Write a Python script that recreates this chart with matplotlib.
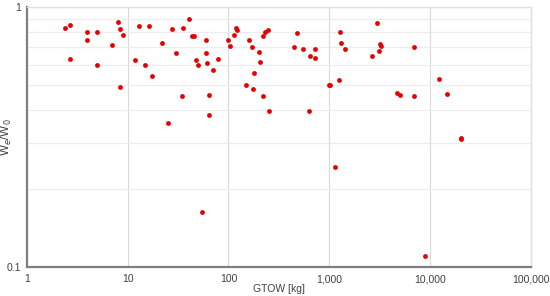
import matplotlib.pyplot as plt
from matplotlib.ticker import FixedLocator, FuncFormatter, NullFormatter

plt.rcParams['font.family'] = ['Liberation Sans', 'DejaVu Sans']

# GTOW [kg] and empty weight fraction We/W0
gtow = [2.40, 2.69, 2.69, 3.99, 3.99, 4.97, 4.97, 7.00, 7.98, 8.35,
        9.00, 8.47, 12.97, 11.9, 16.4, 15.0, 17.5, 21.9, 27.7, 30.0,
        25.0, 35.6, 40.9, 34.8, 43.8, 45.5, 47.9, 49.9, 59.8, 59.8,
        60.8, 64.5, 64.5, 69.7, 78.7, 99.5, 102.8, 114.2, 119.5, 120.6,
        150, 159.7, 169.8, 175, 180.3, 199.3, 205.3, 219.8, 219.8, 230,
        244.6, 250.3, 55.0, 477.5, 449, 547, 720, 647, 720, 632,
        998, 1021, 1245, 1265, 1295, 1438, 2983, 3172, 3223, 3080,
        2661, 6939, 4710, 5043, 6939, 12110, 14540, 20000, 20400, 1144,
        8916]
we_w0 = [0.831, 0.851, 0.628, 0.798, 0.747, 0.798, 0.598, 0.713, 0.874, 0.819,
         0.777, 0.492, 0.845, 0.623, 0.845, 0.598, 0.541, 0.726, 0.819, 0.664,
         0.359, 0.831, 0.899, 0.455, 0.770, 0.774, 0.623, 0.598, 0.747, 0.664,
         0.606, 0.459, 0.383, 0.570, 0.630, 0.747, 0.707, 0.781, 0.831, 0.816,
         0.499, 0.747, 0.702, 0.485, 0.555, 0.672, 0.613, 0.770, 0.453, 0.802,
         0.814, 0.399, 0.163, 0.791, 0.702, 0.688, 0.688, 0.645, 0.637, 0.399,
         0.499, 0.501, 0.523, 0.800, 0.727, 0.686, 0.864, 0.717, 0.705, 0.674,
         0.647, 0.699, 0.467, 0.459, 0.455, 0.529, 0.462, 0.314, 0.312, 0.243,
         0.1105]

x_ticks = [1, 10, 100, 1000, 10000, 100000]
y_ticks = [0.1, 1]

fig = plt.figure(figsize=(5.5, 2.96), dpi=100)
ax = fig.add_axes([0.0485, 0.097, 0.917, 0.8804])

ax.scatter(gtow, we_w0, s=12, color='#e60000', zorder=3, linewidths=0)

ax.set_xscale('log')
ax.set_yscale('log')
ax.set_xlim(1, 100000)
ax.set_ylim(0.1, 1)

ax.xaxis.set_major_locator(FixedLocator(x_ticks))
ax.xaxis.set_minor_formatter(NullFormatter())
ax.xaxis.set_major_formatter(FuncFormatter(lambda v, p: f'{v:,.0f}'))
ax.yaxis.set_major_locator(FixedLocator(y_ticks))
ax.yaxis.set_minor_locator(FixedLocator([0.2, 0.3, 0.4, 0.5, 0.6, 0.7, 0.8, 0.9]))
ax.yaxis.set_minor_formatter(NullFormatter())
ax.yaxis.set_major_formatter(FuncFormatter(lambda v, p: f'{v:g}'))

ax.grid(which='major', color='#d9d9d9', linewidth=0.8)
ax.grid(which='minor', axis='y', color='#ececec', linewidth=0.8)
ax.set_axisbelow(True)

ax.tick_params(which='both', length=0, labelsize=7.5, colors='#404040')
ax.tick_params(axis='x', pad=5)
ax.tick_params(axis='y', pad=4)

for side in ['left', 'bottom']:
    ax.spines[side].set_color('#7f7f7f')
    ax.spines[side].set_linewidth(1.6)
for side in ['top', 'right']:
    ax.spines[side].set_color('#e0e0e0')
    ax.spines[side].set_linewidth(1.0)

ax.set_xlabel('GTOW [kg]', fontsize=7.5, color='#404040', labelpad=0)
ax.set_ylabel('W$_e$/W$_0$', fontsize=8.5, color='#404040')
ax.yaxis.set_label_coords(-0.025, 0.5)

fig.savefig('out.png', dpi=100)
